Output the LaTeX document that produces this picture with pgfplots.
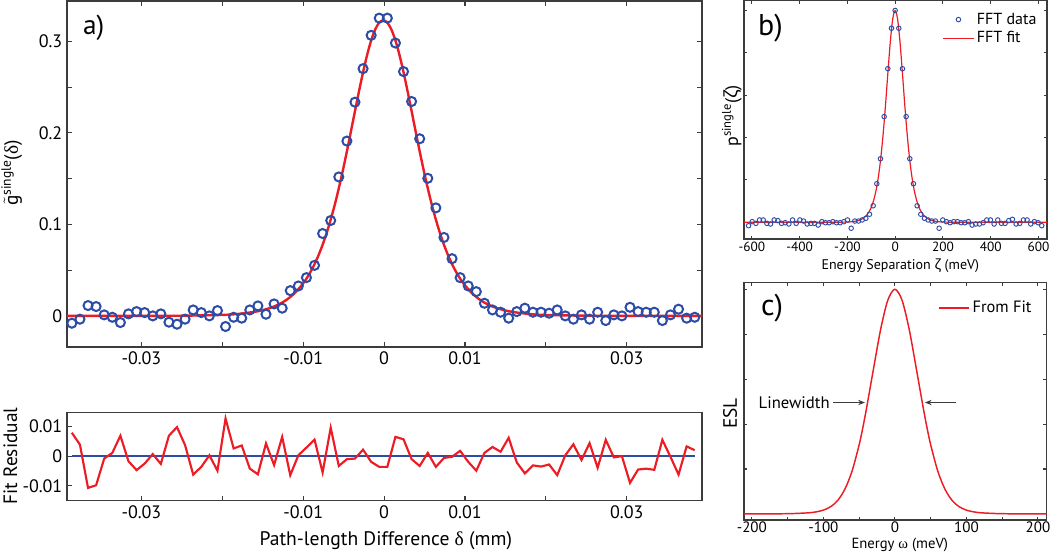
\documentclass[border=0pt]{standalone}
\usepackage{fontspec}
\setmainfont{PT Sans}
\newfontfamily\grk{Liberation Serif}
\newfontfamily\grs{Noto Sans}
\usepackage{pgfplots}
\pgfplotsset{compat=1.18}
\usetikzlibrary{arrows.meta}
\definecolor{dblue}{RGB}{44,76,166}
\definecolor{lred}{RGB}{237,28,36}
\definecolor{axgray}{RGB}{60,60,60}

\pgfplotstableread{
x y
-0.0386 -0.0080
-0.0376 -0.0036
-0.0366 0.0113
-0.0356 0.0102
-0.0346 0.0011
-0.0336 -0.0015
-0.0326 -0.0073
-0.0316 0.0022
-0.0306 0.0047
-0.0296 0.0036
-0.0286 0.0000
-0.0276 0.0022
-0.0266 -0.0069
-0.0256 -0.0091
-0.0246 -0.0036
-0.0236 0.0065
-0.0226 0.0036
-0.0216 0.0000
-0.0206 0.0058
-0.0196 -0.0116
-0.0186 -0.0015
-0.0176 -0.0025
-0.0166 0.0065
-0.0156 0.0109
-0.0146 0.0018
-0.0136 0.0131
-0.0126 0.0084
-0.0116 0.0276
-0.0106 0.0327
-0.0096 0.0418
-0.0086 0.0552
-0.0076 0.0900
-0.0066 0.1042
-0.0056 0.1518
-0.0046 0.1910
-0.0036 0.2335
-0.0026 0.2701
-0.0016 0.3065
-0.0006 0.3253
0.0004 0.3253
0.0014 0.2981
0.0024 0.2669
0.0034 0.2342
0.0044 0.1935
0.0054 0.1503
0.0064 0.1180
0.0074 0.0857
0.0084 0.0625
0.0094 0.0418
0.0104 0.0327
0.0114 0.0265
0.0124 0.0138
0.0134 0.0065
0.0144 0.0040
0.0154 -0.0025
0.0164 0.0047
0.0174 0.0084
0.0184 0.0040
0.0194 0.0040
0.0204 0.0029
0.0214 0.0065
0.0224 0.0000
0.0234 -0.0036
0.0244 0.0011
0.0254 -0.0036
0.0264 0.0040
0.0274 -0.0051
0.0284 0.0011
0.0294 0.0000
0.0304 0.0094
0.0314 0.0047
0.0324 0.0040
0.0334 0.0040
0.0344 -0.0051
0.0354 0.0011
0.0364 0.0073
0.0374 -0.0025
0.0384 -0.0015
}\dataA

\pgfplotstableread{
x y
-0.0392 0
-0.0301 0
-0.0251 0.0002
-0.0201 0.0010
-0.0181 0.0021
-0.0161 0.0043
-0.0151 0.0061
-0.0141 0.0086
-0.0131 0.0122
-0.0121 0.0173
-0.0111 0.0245
-0.0101 0.0344
-0.0096 0.0407
-0.0091 0.0480
-0.0086 0.0565
-0.0081 0.0664
-0.0076 0.0777
-0.0071 0.0906
-0.0066 0.1052
-0.0061 0.1214
-0.0056 0.1394
-0.0051 0.1589
-0.0046 0.1797
-0.0041 0.2015
-0.0036 0.2237
-0.0031 0.2455
-0.0026 0.2663
-0.0021 0.2850
-0.0016 0.3009
-0.0011 0.3129
-0.0006 0.3204
-0.0001 0.3230
0.0004 0.3204
0.0009 0.3129
0.0014 0.3009
0.0019 0.2850
0.0024 0.2663
0.0029 0.2455
0.0034 0.2237
0.0039 0.2015
0.0044 0.1797
0.0049 0.1589
0.0054 0.1394
0.0059 0.1214
0.0064 0.1052
0.0069 0.0906
0.0074 0.0777
0.0079 0.0664
0.0084 0.0565
0.0089 0.0480
0.0094 0.0407
0.0099 0.0344
0.0109 0.0245
0.0119 0.0173
0.0129 0.0122
0.0139 0.0086
0.0149 0.0061
0.0159 0.0043
0.0179 0.0021
0.0199 0.0010
0.0249 0.0002
0.0299 0
0.0393 0
}\fitA

\pgfplotstableread{
x y
-0.0386 0.0079
-0.0376 0.0039
-0.0366 -0.0107
-0.0356 -0.0098
-0.0346 -0.0008
-0.0336 0.0011
-0.0326 0.0069
-0.0316 -0.0017
-0.0306 -0.0047
-0.0296 -0.0025
-0.0286 0.0007
-0.0276 -0.0026
-0.0266 0.0069
-0.0256 0.0098
-0.0246 0.0037
-0.0236 -0.0062
-0.0226 -0.0036
-0.0216 0.0003
-0.0206 -0.0049
-0.0196 0.0127
-0.0186 0.0026
-0.0176 0.0036
-0.0166 -0.0042
-0.0156 -0.0061
-0.0146 0.0043
-0.0136 -0.0030
-0.0126 0.0065
-0.0116 -0.0064
-0.0106 0.0003
-0.0096 0.0029
-0.0086 0.0056
-0.0076 -0.0055
-0.0066 0.0096
-0.0056 -0.0033
-0.0046 -0.0010
-0.0036 -0.0008
-0.0026 0.0022
-0.0016 -0.0019
-0.0006 -0.0036
0.0004 -0.0036
0.0014 0.0065
0.0024 0.0057
0.0034 -0.0010
0.0044 -0.0033
0.0054 0.0011
0.0064 -0.0036
0.0074 -0.0006
0.0084 -0.0002
0.0094 0.0018
0.0104 -0.0019
0.0114 -0.0049
0.0124 0.0011
0.0134 0.0031
0.0144 0.0015
0.0154 0.0062
0.0164 -0.0021
0.0174 -0.0058
0.0184 -0.0031
0.0194 -0.0035
0.0204 -0.0028
0.0214 -0.0064
0.0224 0.0003
0.0234 0.0040
0.0244 -0.0013
0.0254 0.0044
0.0264 -0.0039
0.0274 0.0055
0.0284 -0.0004
0.0294 0.0000
0.0304 -0.0090
0.0314 -0.0045
0.0324 -0.0042
0.0334 -0.0046
0.0344 0.0055
0.0354 -0.0002
0.0364 -0.0062
0.0374 0.0033
0.0384 0.0020
}\resA

\pgfplotstableread{
x y
-614 -0.016
-598.65 0.003
-583.3 -0.005
-567.95 0.011
-552.6 0.011
-537.25 -0.005
-521.9 -0.008
-506.55 0.011
-491.2 0.008
-475.85 -0.005
-460.5 -0.002
-445.15 -0.008
-429.8 0.011
-414.45 -0.005
-399.1 0.011
-383.75 0.006
-368.4 -0.008
-353.05 -0.005
-337.7 -0.005
-322.35 -0.013
-307 0.003
-291.65 -0.002
-276.3 -0.002
-260.95 0.003
-245.6 -0.002
-230.25 -0.002
-214.9 0.003
-199.55 0.011
-184.2 -0.028
-168.85 0.006
-153.5 0.006
-138.15 0.011
-122.8 0.019
-107.45 0.038
-92.1 0.078
-76.75 0.182
-61.4 0.300
-46.05 0.499
-30.7 0.725
-15.35 0.916
0 1.000
15.35 0.916
30.7 0.725
46.05 0.499
61.4 0.300
76.75 0.182
92.1 0.078
107.45 0.038
122.8 0.019
138.15 0.011
153.5 0.006
168.85 0.006
184.2 -0.028
199.55 0.011
214.9 0.003
230.25 -0.002
245.6 0.003
260.95 0.003
276.3 -0.002
291.65 -0.002
307 0.003
322.35 -0.013
337.7 -0.008
353.05 -0.008
368.4 -0.002
383.75 0.011
399.1 0.011
414.45 -0.008
429.8 0.011
445.15 -0.005
460.5 -0.005
475.85 0.008
491.2 0.014
506.55 -0.008
521.9 -0.005
537.25 0.011
552.6 0.011
567.95 -0.008
583.3 0.003
598.65 -0.002
614 -0.016
}\dataB

\pgfplotstableread{
x y
-636 0
-300 0
-250 0.0002
-200 0.0013
-180 0.0030
-160 0.0066
-140 0.0147
-120 0.0324
-110 0.0479
-100 0.0707
-90 0.1036
-80 0.1505
-70 0.2162
-60 0.3050
-50 0.4200
-40 0.5591
-30 0.7116
-20 0.8556
-10 0.9610
0 1
10 0.9610
20 0.8556
30 0.7116
40 0.5591
50 0.4200
60 0.3050
70 0.2162
80 0.1505
90 0.1036
100 0.0707
110 0.0479
120 0.0324
140 0.0147
160 0.0066
180 0.0030
200 0.0013
250 0.0002
300 0
636 0
}\fitB

\pgfplotstableread{
x y
-212 0
-200 0
-160 0.0007
-140 0.002
-120 0.0052
-110 0.0093
-100 0.017
-90 0.032
-80 0.060
-70 0.110
-60 0.190
-50 0.308
-45 0.382
-40 0.465
-30 0.645
-20 0.821
-10 0.951
0 1
10 0.951
20 0.821
30 0.645
40 0.465
45 0.382
50 0.308
60 0.190
70 0.110
80 0.060
90 0.032
100 0.017
110 0.0093
120 0.0052
140 0.002
160 0.0007
200 0
212 0
}\fitC

\pgfplotsset{
  every axis/.append style={
    scale only axis, anchor=north west,
    axis line style={axgray, line width=0.9pt},
    every tick/.style={axgray, line width=0.8pt},
    tick align=inside,
    scaled ticks=false,
  },
  lineleg/.style={legend image code/.code={\draw[##1] (0cm,0cm) -- (0.8cm,0cm);}},
  markleg/.style={legend image code/.code={\draw[##1] plot coordinates {(0.4cm,0cm)};}},
}

\begin{document}
\begin{tikzpicture}
\useasboundingbox (0,0) rectangle (787.5pt,-413.25pt);

% ---------- panel a ----------
\begin{axis}[at={(50.25pt,-0.75pt)}, width=476.25pt, height=259.5pt,
  xmin=-0.0392, xmax=0.0393, ymin=-0.034, ymax=0.344,
  xtick={-0.03,-0.02,-0.01,0,0.01,0.02,0.03},
  xticklabels={-0.03,,-0.01,0,0.01,,0.03},
  ytick={0,0.05,0.1,0.15,0.2,0.25,0.3},
  yticklabels={0,,0.1,,0.2,,0.3},
  major tick length=3.8pt,
  tick label style={font=\fontsize{13.5}{16}\selectfont},
  ylabel={$\tilde{\mbox{g}}$\textsuperscript{single}({\grk δ})},
  ylabel style={at={(axis description cs:-0.087,0.503)}, anchor=center, font=\fontsize{14.5}{17}\selectfont},
]
\addplot[only marks, mark=o, mark size=3.4pt, dblue, line width=1.5pt] table {\dataA};
\addplot[lred, line width=1.8pt, smooth] table {\fitA};
\node[anchor=base west, inner sep=0pt, font=\fontsize{20.5}{24}\selectfont] at (rel axis cs:0.025,0.902) {a)};
\end{axis}

% ---------- residual ----------
\begin{axis}[at={(50.25pt,-309.2pt)}, width=476.25pt, height=66.3pt,
  xmin=-0.0392, xmax=0.0393, ymin=-0.015, ymax=0.0148,
  xtick={-0.03,-0.02,-0.01,0,0.01,0.02,0.03},
  xticklabels={-0.03,,-0.01,0,0.01,,0.03},
  ytick={-0.01,0,0.01}, yticklabels={-0.01,0,0.01},
  xtick pos=bottom, ytick pos=left,
  major tick length=3.8pt,
  tick label style={font=\fontsize{13.5}{16}\selectfont},
  xlabel={Path-length Difference {\grk δ} (mm)},
  xlabel style={at={(axis description cs:0.502,-0.456)}, anchor=center, font=\fontsize{14.7}{17}\selectfont},
  ylabel={Fit Residual},
  ylabel style={at={(axis description cs:-0.089,0.505)}, anchor=center, font=\fontsize{14.5}{17}\selectfont},
]
\addplot[dblue, line width=1.9pt] coordinates {(-0.0386,0) (0.0384,0)};
\addplot[lred, line width=1.6pt] table {\resA};
\end{axis}

% ---------- panel b ----------
\begin{axis}[at={(558pt,-0.375pt)}, width=227.25pt, height=178.9pt,
  xmin=-633, xmax=636, ymin=-0.079, ymax=1.047,
  xtick={-600,-400,-200,0,200,400,600},
  xticklabels={-600,-400,-200,0,200,400,600},
  ytick={0,0.2,0.4,0.6,0.8,1.0}, yticklabels={},
  major tick length=2.6pt,
  tick label style={font=\fontsize{10}{12}\selectfont},
  xticklabel style={yshift=1pt},
  xlabel={Energy Separation {\grs ζ} (meV)},
  xlabel style={at={(axis description cs:0.516,-0.11)}, anchor=center, font=\fontsize{10.5}{12}\selectfont},
  ylabel={p\textsuperscript{single}({\grs ζ})},
  ylabel style={at={(axis description cs:-0.04,0.516)}, anchor=center, font=\fontsize{13.5}{16}\selectfont},
  legend style={at={(rel axis cs:0.975,0.96)}, anchor=north east, draw=none, fill=none,
    font=\fontsize{12}{14}\selectfont, inner sep=0pt, row sep=0pt},
  legend cell align=left,
  lineleg,
]
\addplot[only marks, mark=o, mark size=1.7pt, dblue, line width=0.7pt, markleg] table {\dataB};
\addlegendentry{FFT data}
\addplot[lred, line width=0.9pt, smooth] table {\fitB};
\addlegendentry{FFT fit}
\node[anchor=base west, inner sep=0pt, font=\fontsize{22.5}{26}\selectfont] at (rel axis cs:0.046,0.855) {b)};
\end{axis}

% ---------- panel c ----------
\begin{axis}[at={(558pt,-211.9pt)}, width=226.9pt, height=178.1pt,
  xmin=-211, xmax=212, ymin=-0.027, ymax=1.03,
  xtick={-200,-150,-100,-50,0,50,100,150,200},
  xticklabels={-200,,-100,,0,,100,,200},
  ytick={0,0.2,0.4,0.6,0.8,1.0}, yticklabels={},
  major tick length=2.6pt,
  tick label style={font=\fontsize{11.3}{13}\selectfont},
  xticklabel style={yshift=2pt},
  xlabel={Energy {\grk ω} (meV)},
  xlabel style={at={(axis description cs:0.515,-0.105)}, anchor=center, font=\fontsize{11}{13}\selectfont},
  ylabel={ESL},
  ylabel style={at={(axis description cs:-0.046,0.449)}, anchor=center, font=\fontsize{14.5}{17}\selectfont},
  legend style={at={(rel axis cs:0.96,0.935)}, anchor=north east, draw=none, fill=none,
    font=\fontsize{12.3}{14}\selectfont, inner sep=0pt},
  legend cell align=left,
]
\addplot[lred, line width=1.1pt, smooth, forget plot] table {\fitC};
\addlegendimage{draw=lred, line width=1.3pt, lineleg}
\addlegendentry{From Fit}
\node[anchor=base west, inner sep=0pt, font=\fontsize{22.5}{26}\selectfont] at (rel axis cs:0.056,0.862) {c)};
\node[anchor=east, inner sep=1pt, font=\fontsize{12.5}{15}\selectfont] at (axis cs:-89,0.496) {Linewidth};
\draw[-{Stealth[length=5pt,width=4pt]}, draw=axgray, fill=axgray, line width=0.9pt] (axis cs:-86.5,0.496) -- (axis cs:-42,0.496);
\draw[-{Stealth[length=5pt,width=4pt]}, draw=axgray, fill=axgray, line width=0.9pt] (axis cs:85,0.496) -- (axis cs:42,0.496);
\end{axis}
\end{tikzpicture}
\end{document}
